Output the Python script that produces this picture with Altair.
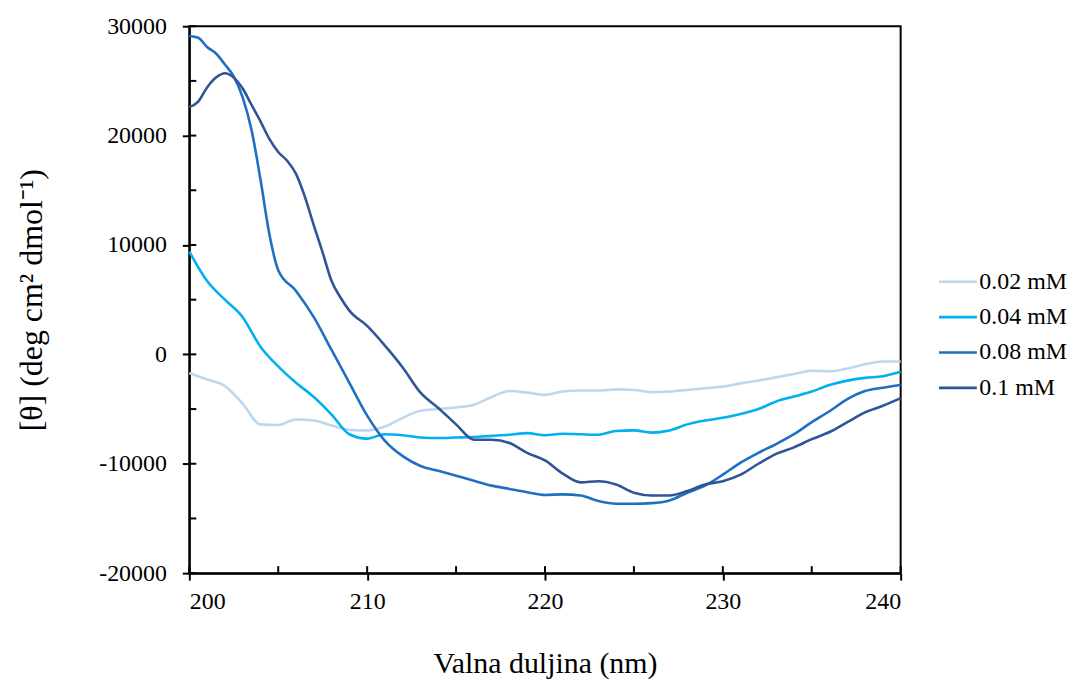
import altair as alt
import pandas as pd

# ---------------- data ----------------
series_names = ["0.02 mM", "0.04 mM", "0.08 mM", "0.1 mM"]
series_colors = ["#BDD7EE", "#00B0F0", "#1F6FC5", "#2F5597"]

wl_002 = list(range(200, 241))
val_002 = [-1700, -2300, -2900, -4500, -6400, -6450, -5950, -6050, -6500, -6900,
           -6950, -6600, -5800, -5150, -5000, -4850, -4600, -3900, -3350, -3500,
           -3700, -3400, -3300, -3300, -3200, -3250, -3450, -3400, -3250, -3100,
           -2950, -2650, -2400, -2100, -1800, -1500, -1550, -1300, -900, -650, -650]

wl_004 = list(range(200, 241))
val_004 = [9400, 6700, 5000, 3400, 700, -1100, -2600, -3900, -5500, -7300,
           -7700, -7300, -7400, -7600, -7650, -7600, -7550, -7450, -7350, -7200,
           -7400, -7250, -7300, -7350, -7000, -6950, -7150, -6950, -6400, -6050,
           -5800, -5450, -5000, -4300, -3850, -3400, -2800, -2400, -2150, -2000, -1600]

wl_008 = [200, 200.5, 201, 201.5, 202, 202.5, 203, 203.5, 204, 204.5, 205] + list(range(206, 241))
val_008 = [29100, 28950, 28100, 27500, 26500, 25400, 23500, 20500, 16000, 11000, 7700,
           5800, 3400, 400, -2600, -5600, -7900, -9300, -10200, -10650, -11100,
           -11550, -12000, -12300, -12600, -12850, -12800, -12900, -13400, -13650, -13650,
           -13600, -13350, -12650, -12000, -11000, -9900, -9000, -8200, -7300, -6200,
           -5200, -4100, -3350, -3050, -2800]

wl_01 = [200, 200.5, 201, 201.5, 202, 202.5, 203, 203.5, 204, 204.5, 205, 205.5,
         206, 206.5, 207, 207.5, 208, 208.5, 209] + list(range(210, 241))
val_01 = [22600, 23100, 24400, 25300, 25700, 25300, 24300, 22800, 21300, 19700, 18500, 17700,
          16500, 14400, 11800, 9300, 6700, 5200, 4000,
          2600, 800, -1200, -3500, -4900, -6400, -7800, -7800, -8100, -9000,
          -9700, -10900, -11700, -11600, -11900, -12650, -12900, -12900, -12500, -11900,
          -11600, -11000, -10000, -9100, -8500, -7750, -7100, -6200, -5300, -4700, -4000]

y_ticks = [-20000, -10000, 0, 10000, 20000, 30000]
y_minor = list(range(-20000, 30001, 5000))
x_ticks = [200, 210, 220, 230, 240]
x_minor = list(range(200, 241, 5))

# ---------------- tables ----------------
rows = []
for name, wls, vals in zip(series_names, [wl_002, wl_004, wl_008, wl_01],
                           [val_002, val_004, val_008, val_01]):
    for w, v in zip(wls, vals):
        rows.append({"wl": w, "theta": v, "conc": name})
df = pd.DataFrame(rows)
df_ymin = pd.DataFrame({"v": y_minor})
df_xmin = pd.DataFrame({"v": x_minor})

W, H = 714, 549
FONT = "Liberation Serif"

xscale = alt.Scale(domain=[200, 240], nice=False, zero=False)
yscale = alt.Scale(domain=[-20000, 30000], nice=False, zero=False)

lines = alt.Chart(df).mark_line(strokeWidth=2.6, interpolate="monotone").encode(
    x=alt.X("wl:Q", scale=xscale,
            axis=alt.Axis(values=x_ticks, title="Valna duljina (nm)",
                          labelExpr="'' + datum.value",
                          titleX=W / 2, titleY=91, titleBaseline="middle",
                          titleAlign="center", labelPadding=9)),
    y=alt.Y("theta:Q", scale=yscale,
            axis=alt.Axis(values=y_ticks, title="[θ] (deg cm² dmol⁻¹)",
                          labelExpr="'' + datum.value",
                          titleX=-158, titleY=H / 2, titleBaseline="middle",
                          titleAlign="center", titleAngle=-90, titleFontSize=32,
                          labelPadding=16)),
    color=alt.Color("conc:N",
                    scale=alt.Scale(domain=series_names, range=series_colors),
                    sort=series_names,
                    legend=alt.Legend(title=None, orient="none", legendX=751, legendY=236,
                                      symbolType="stroke", symbolSize=1444,
                                      symbolStrokeWidth=2.6, labelOffset=1,
                                      labelFont=FONT, labelFontSize=24,
                                      labelColor="black", rowPadding=2.5)),
)

ytick_in = alt.Chart(df_ymin).mark_rule(color="black", strokeWidth=2).encode(
    y=alt.Y("v:Q", scale=yscale),
    x=alt.value(0), x2=alt.value(7),
)
xtick_in = alt.Chart(df_xmin).mark_rule(color="black", strokeWidth=2).encode(
    x=alt.X("v:Q", scale=xscale),
    y=alt.value(H - 7), y2=alt.value(H),
)

chart = alt.layer(lines, ytick_in, xtick_in).properties(
    width=W, height=H,
    autosize=alt.AutoSizeParams(type="none"),
    padding={"left": 182, "top": 17, "right": 175, "bottom": 109},
).configure_view(
    stroke="black", strokeWidth=2
).configure_axis(
    grid=False, domainColor="black", domainWidth=2, tickColor="black", tickWidth=2,
    tickSize=7, labelFont=FONT, labelFontSize=24, labelColor="black",
    titleFont=FONT, titleFontSize=30, titleFontWeight="normal", titleColor="black",
)

chart.save("out.html", embed_options={"renderer": "svg", "actions": False})
